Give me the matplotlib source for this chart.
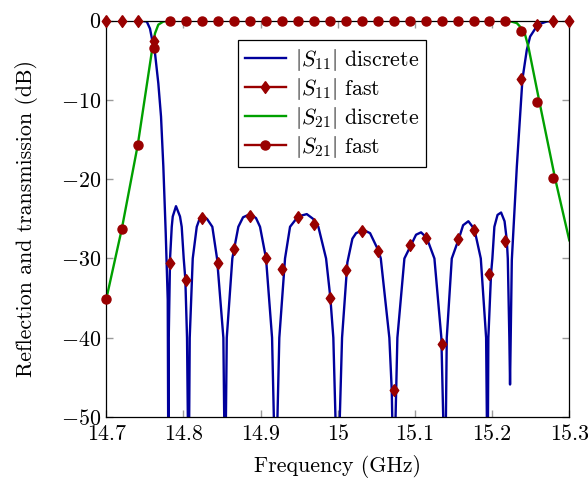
import matplotlib
matplotlib.use("Agg")
import matplotlib.pyplot as plt
from matplotlib.lines import Line2D
from matplotlib.ticker import FuncFormatter
import numpy as np

plt.rcParams["font.family"] = ["cmr10", "DejaVu Serif"]
plt.rcParams["mathtext.fontset"] = "cm"
plt.rcParams["axes.formatter.use_mathtext"] = True

# |S11| discrete (GHz, dB); -60 marks nulls below the axis
s11_freq = [14.7000, 14.7437, 14.7524, 14.7566, 14.7596, 14.7631, 14.7674, 14.7709,
            14.7739, 14.7770, 14.7796, 14.7805,
            14.7809, 14.7826, 14.7848, 14.7861, 14.7903, 14.7955, 14.7977, 14.8003, 14.8024, 14.8046, 14.8067,
            14.8081, 14.8120, 14.8172, 14.8205, 14.8249, 14.8305, 14.8374, 14.8435, 14.8517, 14.8539,
            14.8561, 14.8633, 14.8711, 14.8772, 14.8863, 14.8940, 14.8992, 14.9070, 14.9148, 14.9194,
            14.9242, 14.9316, 14.9381, 14.9485, 14.9598, 14.9680, 14.9748, 14.9848, 14.9903, 14.9942, 14.9997,
            15.0055, 15.0124, 15.0189, 15.0237, 15.0331, 15.0418, 15.0526, 15.0557, 15.0668, 15.0699, 15.0725,
            15.0772, 15.0863, 15.0949, 15.1014, 15.1079, 15.1153, 15.1252, 15.1342, 15.1390,
            15.1412, 15.1477, 15.1572, 15.1624, 15.1692, 15.1770, 15.1853, 15.1922, 15.1941,
            15.1951, 15.1986, 15.2003, 15.2029, 15.2070, 15.2116, 15.2161, 15.2190, 15.2203, 15.2223, 15.2232,
            15.2255, 15.2320, 15.2393, 15.2449, 15.2492, 15.2592, 15.2708, 15.2816, 15.3000]
s11_db = [0, 0, -0.1, -1.0, -2.5, -4.1, -7.9, -12.1,
          -18.4, -26.8, -35.2, -60,
          -40, -30, -26, -24.7, -23.4, -24.7, -26, -30, -32.6, -40, -60,
          -40, -30, -26, -25.1, -24.7, -25.0, -26, -30, -40, -60,
          -40, -30, -26, -24.8, -24.4, -24.9, -26, -30, -40, -60,
          -40, -30, -26, -24.7, -24.4, -25.0, -26, -30, -34.9, -40, -60,
          -40, -30.5, -27.5, -26.8, -26.4, -26.8, -29.0, -30, -40, -46.6, -60,
          -40, -30, -28.3, -27.0, -26.7, -27.4, -30, -40, -60,
          -40, -30, -27.4, -25.8, -25.3, -26.3, -30, -40, -60,
          -40, -31.9, -30, -26, -24.5, -24.2, -25.3, -27.7, -30, -40, -45.9,
          -30.2, -18.4, -7.35, -3.7, -2.0, -0.5, -0.1, 0, 0]

# |S21| discrete
s21_freq = [14.7000, 14.7200, 14.7407, 14.7596, 14.7631, 14.7674, 14.7739, 14.7804,
            15.2211, 15.2320, 15.2414, 15.2470, 15.2612, 15.2816, 15.3000]
s21_db = [-35.1, -26.3, -15.7, -3.5, -1.6, -0.5, -0.1, 0,
          0, -0.3, -1.3, -3.3, -10.2, -19.9, -27.7]

# fast solver samples, 30 points from 14.7 to 15.3 GHz
fast_freq = np.linspace(14.7, 15.3, 30)
s11_fast = [0, 0, 0, -2.5, -30.6, -32.7, -24.9, -30.6, -28.8, -24.6,
            -30.0, -31.3, -24.8, -25.6, -35.0, -31.4, -26.5, -29.1, -46.6, -28.3,
            -27.4, -40.8, -27.5, -26.4, -31.9, -27.8, -7.3, -0.6, 0, 0]
s21_fast = [-35.1, -26.3, -15.7, -3.5] + [0] * 22 + [-1.3, -10.2, -19.9, np.nan]

blue = "#00009c"
red = "#990000"
green = "#00a000"
diamond = [(0, 1), (0.72, 0), (0, -1), (-0.72, 0), (0, 1)]
fs = 15.8

fig = plt.figure(figsize=(5.88, 4.84), dpi=100)
ax = fig.add_axes([0.1808, 0.1384, 0.7874, 0.8188])

ax.plot(s11_freq, s11_db, color=blue, lw=1.7)
ax.plot(fast_freq, s11_fast, ls="none", marker=diamond, ms=8.5, color=red, clip_on=False, zorder=4)
ax.plot(s21_freq, s21_db, color=green, lw=1.7)
ax.plot(fast_freq, s21_fast, ls="none", marker="o", ms=6.5, color=red, clip_on=False, zorder=4)

ax.set_xlim(14.7, 15.3)
ax.set_ylim(-50, 0)
ax.set_xticks([14.7, 14.8, 14.9, 15.0, 15.1, 15.2, 15.3])
ax.set_yticks([-50, -40, -30, -20, -10, 0])
ax.xaxis.set_major_formatter(FuncFormatter(lambda v, p: "%g" % v))
ax.tick_params(direction="in", top=True, right=True, length=5, width=1,
               color="#9a9a9a", labelsize=fs, pad=4)
ax.tick_params(axis="x", pad=5.5)
for s in ax.spines.values():
    s.set_linewidth(0.9)

ax.set_xlabel("Frequency (GHz)", fontsize=fs, labelpad=8)
ax.set_ylabel("Reflection and transmission (dB)", fontsize=fs, labelpad=16)

handles = [
    Line2D([], [], color=blue, lw=1.7),
    Line2D([], [], color=red, lw=1.7, marker=diamond, ms=8.5),
    Line2D([], [], color=green, lw=1.7),
    Line2D([], [], color=red, lw=1.7, marker="o", ms=6.5),
]
labels = [r"$|S_{11}|$ discrete", r"$|S_{11}|$ fast",
          r"$|S_{21}|$ discrete", r"$|S_{21}|$ fast"]
leg = ax.legend(handles, labels, loc="upper left", bbox_to_anchor=(0.2845, 0.951),
                borderaxespad=0, fontsize=fs, fancybox=False, framealpha=1,
                edgecolor="black", handlelength=1.9, handletextpad=0.4,
                labelspacing=0.14, borderpad=0.3)
leg.get_frame().set_linewidth(0.9)

fig.savefig("out.png", dpi=100)
